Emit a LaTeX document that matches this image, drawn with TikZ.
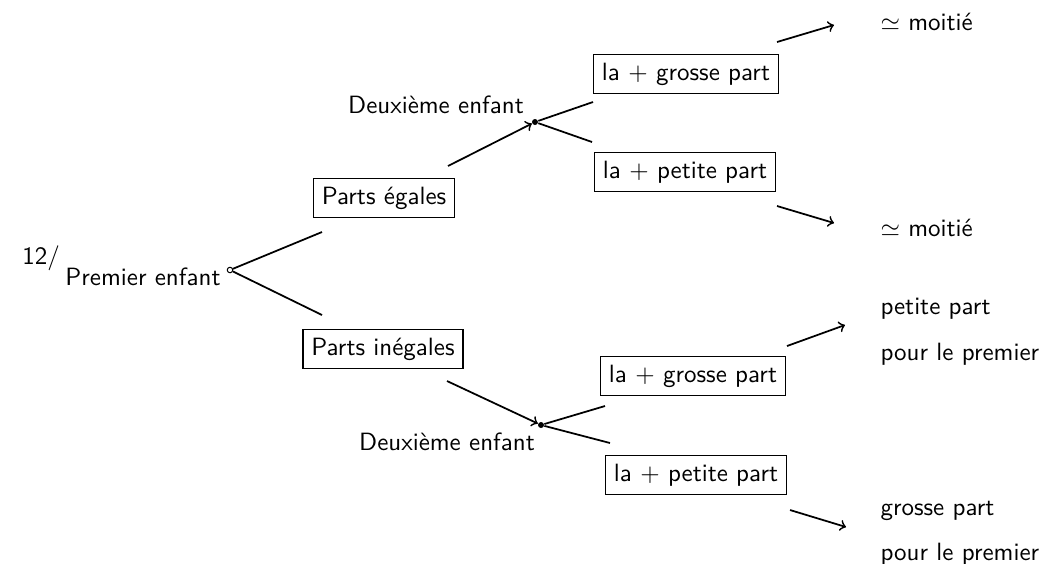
\documentclass[tikz,border=0pt]{standalone}
\usepackage{amssymb}
\renewcommand{\familydefault}{\sfdefault}
\begin{document}
\begin{tikzpicture}[x=0.4pt,y=-0.4pt,
  every node/.style={font=\sffamily},
  box/.style={draw,semithick},
  lbl/.style={inner sep=0pt},
  ln/.style={line width=0.7pt},
  arr/.style={line width=0.7pt,->},
  dotf/.style={circle,fill,inner sep=0pt,minimum size=2.4pt},
  doto/.style={circle,draw,thin,fill=white,inner sep=0pt,minimum size=2.2pt}]
\useasboundingbox (0,0) rectangle (1064,563);
% root
\node[lbl] (num) at (41,258) {12/};
\node[lbl] (root) at (143,277) {Premier enfant};
\node[doto] (r0) at (230,270) {};
\node[box] (pe) at (384,198) {Parts égales};
\node[box] (pi) at (383,349) {Parts inégales};
\coordinate (a1) at (322,232);
\coordinate (a2) at (322,315);
\draw[ln] (r0) -- (a1);
\draw[ln] (r0) -- (a2);
% upper branch
\coordinate (b1) at (448,166);
\node[dotf] (d1) at (535,122) {};
\node[lbl] (de1) at (436,105) {Deuxième enfant};
\draw[arr] (b1) -- (d1);
\node[box] (ug) at (686,74) {la $+$ grosse part};
\node[box] (up) at (685,172) {la $+$ petite part};
\coordinate (c1) at (593,102);
\coordinate (c2) at (592,142);
\draw[ln] (d1) -- (c1);
\draw[ln] (d1) -- (c2);
\coordinate (e1) at (777,42);
\coordinate (e2) at (834,25);
\draw[arr] (e1) -- (e2);
\node[lbl,anchor=west] (m1) at (880,22) {$\simeq$ moitié};
\coordinate (f1) at (777,206);
\coordinate (f2) at (834,223);
\draw[arr] (f1) -- (f2);
\node[lbl,anchor=west] (m2) at (880,228) {$\simeq$ moitié};
% lower branch
\coordinate (b2) at (447,381);
\node[dotf] (d2) at (541,425) {};
\node[lbl] (de2) at (447,442) {Deuxième enfant};
\draw[arr] (b2) -- (d2);
\node[box] (lg) at (693,376) {la $+$ grosse part};
\node[box] (lp) at (696,475) {la $+$ petite part};
\coordinate (g1) at (605,406);
\coordinate (g2) at (610,443);
\draw[ln] (d2) -- (g1);
\draw[ln] (d2) -- (g2);
\coordinate (h1) at (787,346);
\coordinate (h2) at (845,325);
\draw[arr] (h1) -- (h2);
\node[lbl,anchor=west] (t1) at (880,309) {petite part};
\node[lbl,anchor=west] (t2) at (880,354) {pour le premier};
\coordinate (k1) at (790,510);
\coordinate (k2) at (846,527);
\draw[arr] (k1) -- (k2);
\node[lbl,anchor=west] (t3) at (880,511) {grosse part};
\node[lbl,anchor=west] (t4) at (880,554) {pour le premier};
\end{tikzpicture}
\end{document}
